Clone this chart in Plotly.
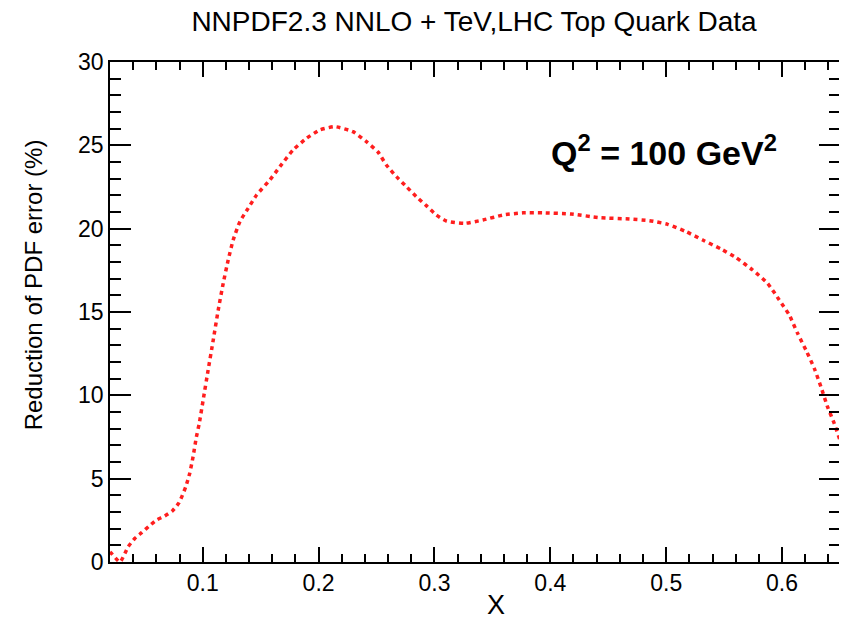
import plotly.graph_objects as go

# Data
x_vals = [0.020, 0.0215, 0.0286, 0.0357, 0.0415, 0.0473, 0.0538, 0.0602, 0.0673, 0.0740,
          0.0796, 0.0854, 0.0888, 0.0917, 0.0946, 0.0970, 0.1004, 0.1047, 0.1091, 0.1134,
          0.1177, 0.1220, 0.1263, 0.1321, 0.1392, 0.1465, 0.1579, 0.1666, 0.1780, 0.1896,
          0.2010, 0.2140, 0.2297, 0.2413, 0.2513, 0.2585, 0.2672, 0.2758, 0.2844, 0.2930,
          0.3016, 0.3103, 0.3260, 0.3418, 0.3591, 0.3763, 0.3935, 0.4180, 0.4424, 0.4683,
          0.4855, 0.5013, 0.5172, 0.5315, 0.5473, 0.5603, 0.5746, 0.5875, 0.5976, 0.6062,
          0.6134, 0.6206, 0.6278, 0.6335, 0.6392, 0.6450, 0.6500]
reduction = [0.6, 0.5, 0.0, 0.92, 1.42, 1.76, 2.16, 2.52, 2.76, 3.08,
             3.56, 4.52, 5.32, 6.32, 7.52, 8.3, 9.72, 11.52, 13.32, 15.12,
             16.72, 18.12, 19.32, 20.42, 21.22, 22.02, 22.92, 23.72, 24.72, 25.42,
             25.92, 26.12, 25.82, 25.22, 24.6, 23.82, 23.12, 22.52, 21.92, 21.38,
             20.82, 20.46, 20.32, 20.52, 20.82, 20.95, 20.95, 20.88, 20.66, 20.58,
             20.48, 20.26, 19.82, 19.32, 18.78, 18.26, 17.52, 16.72, 15.72, 14.82,
             13.72, 12.72, 11.62, 10.52, 9.32, 8.32, 7.3]

title_text = "NNPDF2.3 NNLO + TeV,LHC Top Quark Data"
x_title = "X"
y_title = "Reduction of PDF error (%)"
label_text = "<b>Q<sup>2</sup> = 100 GeV<sup>2</sup></b>"

FONT = "Liberation Sans, Arial, Helvetica, sans-serif"

fig = go.Figure()
fig.add_trace(go.Scatter(
    x=x_vals, y=reduction, mode="lines",
    line=dict(color="#ff1e1e", width=3.5, dash="4px,4px", shape="spline", smoothing=0.5),
    showlegend=False, hoverinfo="skip",
))

axis_common = dict(
    showgrid=False, zeroline=False, showline=True, linecolor="black", linewidth=1.5,
    mirror="allticks", ticks="inside", tickcolor="black", tickwidth=1.5,
    tickfont=dict(family=FONT, size=23, color="black"),
)

fig.update_xaxes(
    range=[0.02, 0.65], tick0=0, dtick=0.1, ticklen=15,
    minor=dict(dtick=0.02, ticks="inside", ticklen=8, tickcolor="black", tickwidth=1.5),
    **axis_common,
)
fig.update_yaxes(
    range=[0, 30], tick0=0, dtick=5, ticklen=21,
    minor=dict(dtick=1, ticks="inside", ticklen=11, tickcolor="black", tickwidth=1.5),
    **axis_common,
)

# The page body adds an 8px offset, so the figure is sized to fit the window.
fig.update_layout(
    width=839, height=614,
    margin=dict(l=102, r=5, t=54, b=60),
    paper_bgcolor="white", plot_bgcolor="white",
    font=dict(family=FONT, color="black"),
    title=dict(text=title_text, x=0.5554, xanchor="center", y=0.978, yanchor="middle",
               font=dict(family=FONT, size=28, color="black")),
    annotations=[
        dict(text=x_title, xref="paper", yref="paper", x=0.5287, y=-0.086,
             xanchor="center", yanchor="middle", showarrow=False,
             font=dict(family=FONT, size=27, color="black")),
        dict(text=y_title, xref="paper", yref="paper", x=-0.105, y=0.554,
             xanchor="center", yanchor="middle", showarrow=False, textangle=-90,
             font=dict(family=FONT, size=24, color="black")),
        dict(text=label_text, xref="x", yref="y", x=0.4984, y=24.7,
             xanchor="center", yanchor="middle", showarrow=False,
             font=dict(family=FONT, size=34, color="black")),
    ],
)

fig.write_html("out.html")
